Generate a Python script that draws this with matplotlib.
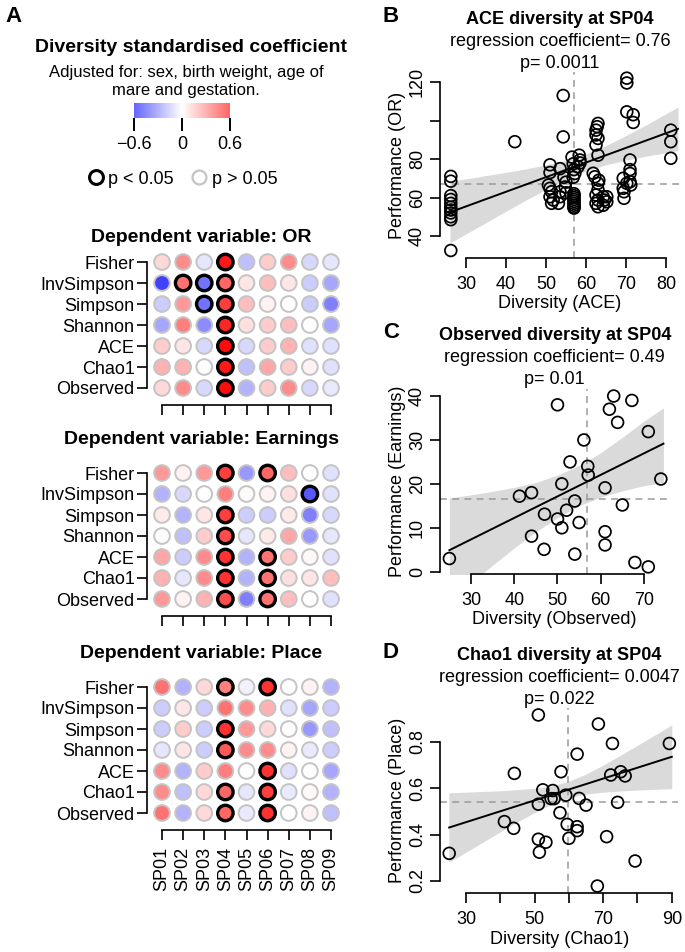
import numpy as np
import matplotlib
matplotlib.use('Agg')
import matplotlib.pyplot as plt
from matplotlib.colors import LinearSegmentedColormap, Normalize
from matplotlib.lines import Line2D

plt.rcParams['font.family'] = ['Liberation Sans', 'DejaVu Sans']
plt.rcParams['axes.linewidth'] = 1.2

# ---------------- data ----------------
indices = ['Fisher', 'InvSimpson', 'Simpson', 'Shannon', 'ACE', 'Chao1', 'Observed']
sites = ['SP01', 'SP02', 'SP03', 'SP04', 'SP05', 'SP06', 'SP07', 'SP08', 'SP09']

# standardised coefficients, rows = indices, cols = sites
coef_or = [[0.15, 0.45, -0.10, 0.90, -0.25, 0.20, 0.45, -0.15, -0.10],
           [-0.75, 0.55, -0.55, 0.60, 0.10, 0.25, 0.10, -0.20, -0.35],
           [-0.20, 0.40, -0.55, 0.75, 0.25, 0.05, 0.00, -0.20, -0.50],
           [-0.35, 0.50, -0.45, 0.85, 0.12, 0.20, 0.25, 0.00, -0.35],
           [0.20, 0.10, -0.15, 0.95, -0.15, 0.20, 0.30, -0.12, -0.12],
           [0.30, 0.30, 0.00, 0.90, -0.25, 0.35, 0.20, 0.05, -0.12],
           [0.15, 0.45, -0.15, 0.95, -0.30, 0.20, 0.45, -0.15, -0.08]]
sig_or = [[0, 0, 0, 1, 0, 0, 0, 0, 0],
          [0, 1, 1, 1, 0, 0, 0, 0, 0],
          [0, 0, 1, 1, 0, 0, 0, 0, 0],
          [0, 0, 0, 1, 0, 0, 0, 0, 0],
          [0, 0, 0, 1, 0, 0, 0, 0, 0],
          [0, 0, 0, 1, 0, 0, 0, 0, 0],
          [0, 0, 0, 1, 0, 0, 0, 0, 0]]

coef_earn = [[0.40, 0.05, 0.40, 0.75, -0.40, 0.60, 0.25, 0.00, -0.12],
             [-0.30, -0.15, 0.00, 0.50, 0.02, 0.05, 0.12, -0.65, -0.12],
             [0.08, -0.30, 0.10, 0.75, -0.20, -0.20, 0.08, -0.50, -0.15],
             [0.00, -0.25, 0.20, 0.70, -0.10, 0.08, 0.35, -0.40, -0.10],
             [0.35, -0.20, 0.45, 0.80, -0.30, 0.55, 0.20, 0.03, -0.12],
             [0.30, -0.10, 0.45, 0.80, -0.30, 0.55, 0.12, 0.10, 0.25],
             [0.40, 0.05, 0.30, 0.70, -0.50, 0.55, 0.25, 0.00, -0.12]]
sig_earn = [[0, 0, 0, 1, 0, 1, 0, 0, 0],
            [0, 0, 0, 0, 0, 0, 0, 1, 0],
            [0, 0, 0, 1, 0, 0, 0, 0, 0],
            [0, 0, 0, 1, 0, 0, 0, 0, 0],
            [0, 0, 0, 1, 0, 1, 0, 0, 0],
            [0, 0, 0, 1, 0, 1, 0, 0, 0],
            [0, 0, 0, 1, 0, 1, 0, 0, 0]]

coef_place = [[0.55, -0.30, 0.15, 0.50, -0.05, 0.80, 0.00, 0.05, -0.30],
              [-0.20, 0.10, -0.20, 0.55, 0.45, 0.30, -0.12, -0.35, -0.20],
              [-0.20, 0.20, -0.20, 0.80, 0.40, 0.15, 0.00, -0.40, -0.25],
              [-0.10, 0.10, -0.20, 0.65, 0.45, 0.45, 0.05, -0.08, -0.20],
              [0.45, -0.30, 0.20, 0.50, 0.00, 0.80, -0.12, 0.00, -0.35],
              [0.45, -0.25, 0.15, 0.60, -0.10, 0.75, -0.08, 0.02, -0.30],
              [0.55, -0.30, 0.15, 0.60, -0.08, 0.80, 0.00, 0.05, -0.25]]
sig_place = [[0, 0, 0, 1, 0, 1, 0, 0, 0],
             [0, 0, 0, 0, 0, 0, 0, 0, 0],
             [0, 0, 0, 1, 0, 0, 0, 0, 0],
             [0, 0, 0, 1, 0, 0, 0, 0, 0],
             [0, 0, 0, 0, 0, 1, 0, 0, 0],
             [0, 0, 0, 1, 0, 1, 0, 0, 0],
             [0, 0, 0, 1, 0, 1, 0, 0, 0]]

# panel B: ACE diversity vs OR
ace_x = [26.2, 26.2, 26.2, 26.2, 26.2, 26.2, 26.2, 26.2, 26.2, 26.2, 26.2,
         42.2,
         51, 51, 53.5, 50.6, 51, 51.4, 51, 51.8, 51.4, 53.5, 53.5, 53.1,
         54.3, 54.3, 54.5, 55, 54.8, 55,
         56.5, 56.8, 57, 57.2, 56.8,
         57, 57, 57, 57, 57, 57, 57, 57, 57,
         58.3, 58.5, 58, 58.5,
         63, 62.8, 62.5, 62.5, 63, 62.5, 63, 61.8, 62.2, 63.2, 63, 63, 62.5, 63,
         64.3, 64.6, 62.5, 64.3, 63, 65.2, 65.2,
         70.2, 70.2, 70.2, 71.8, 71.8, 71, 71, 71, 69.3, 71, 71.2, 69.3, 69.5, 69.5, 70.2,
         81.2, 81.2, 81.2]
ace_or = [71, 68.5, 61, 59, 57, 55, 53.5, 52, 50, 48.5, 32.5,
          89,
          77, 73, 75, 66.5, 64.8, 63, 60.4, 58.7, 57, 63, 60.4, 57,
          113, 91.5, 70.5, 68, 65.5, 62.5,
          81, 77.5, 74.5, 72.5, 70.5,
          62, 61, 60, 59, 58, 57, 56, 55, 54.5,
          82, 79.5, 76, 78,
          98.5, 96.8, 95, 92.5, 90.7, 87.3, 82, 72.6, 70.8, 69, 67.4, 64, 61.3, 58.7,
          60.4, 58.7, 57, 56, 55.2, 60.4, 57.8,
          122, 119.5, 104.5, 103, 99, 79.5, 74.5, 72.5, 70, 68.2, 66.5, 64.8, 63, 59.6, 67.4,
          95, 89, 80.4]
ace_fit = (32.59, 0.76)          # intercept, slope
ace_band_x = [26, 30, 35, 40, 45, 50, 55, 60, 65, 70, 75, 80, 83]
ace_band_lo = [36.4, 41.1, 47.0, 52.9, 58.7, 64.2, 69.4, 73.7, 77.0, 79.4, 81.5, 83.3, 84.4]
ace_band_hi = [68.4, 69.7, 71.4, 73.1, 74.9, 77.0, 79.4, 82.7, 87.0, 92.2, 97.7, 103.5, 107.0]
ace_ref = (57, 67)               # dashed reference lines (x, y)

# panel C: Observed diversity vs Earnings
obs_x = [50, 63, 67.2, 62, 63.9, 56.1, 71, 52.9, 57, 57.1, 51, 73.9, 61, 41.2, 44, 54,
         65, 47, 52.1, 50, 55, 51, 61, 44, 61, 46.9, 54, 25, 67.9, 71]
obs_earn = [38, 40, 39, 37, 34, 30, 31.9, 25, 24, 22, 20, 21.1, 19.1, 17.2, 18, 16.1,
            15.2, 13.1, 14, 12, 11.2, 10, 9.1, 8.1, 6.1, 5.1, 4, 3, 2.1, 1.1]
obs_fit = (-7.35, 0.49)
obs_band_x = [25, 30, 35, 40, 45, 50, 55, 60, 65, 70, 74.5]
obs_band_lo = [-6.5, -2.5, 1.5, 5.4, 9.1, 12.3, 15.0, 17.0, 18.4, 19.6, 20.3]
obs_band_hi = [16.8, 17.5, 18.3, 19.2, 20.3, 22.0, 24.2, 27.1, 30.6, 34.3, 37.3]
obs_ref = (56.75, 16.6)

# panel D: Chao1 diversity vs Place
chao_x = [51.1, 68.6, 72.7, 89.3, 62.4, 44.1, 57.7, 72.2, 75.1, 76.4,
          52.4, 55.3, 54.8, 55.7, 59.1, 51.1, 63, 65, 74.2, 57.4, 41.2, 43.9,
          59.5, 62.4, 62.4, 51.1, 53.3, 60, 71, 51.4, 25.1, 79.3, 68.3]
chao_place = [0.916, 0.877, 0.793, 0.793, 0.747, 0.664, 0.671, 0.657, 0.671, 0.653,
              0.593, 0.59, 0.555, 0.555, 0.57, 0.531, 0.556, 0.527, 0.539, 0.494, 0.456, 0.427,
              0.444, 0.434, 0.417, 0.38, 0.367, 0.384, 0.391, 0.324, 0.319, 0.286, 0.178]
chao_fit = (0.3125, 0.0047)
chao_band_x = [25, 30, 35, 40, 45, 50, 55, 60, 65, 70, 75, 80, 85, 90]
chao_band_lo = [0.280, 0.324, 0.368, 0.412, 0.455, 0.495, 0.532, 0.559, 0.575, 0.583, 0.588, 0.592, 0.595, 0.598]
chao_band_hi = [0.580, 0.583, 0.586, 0.589, 0.594, 0.600, 0.610, 0.630, 0.661, 0.700, 0.742, 0.785, 0.829, 0.873]
chao_ref = (59.8, 0.539)

# ---------------- figure ----------------
W, H = 685, 952
fig = plt.figure(figsize=(W / 100, H / 100), dpi=100)

def px_axes(x0, y0, x1, y1):
    # axes from a pixel box (top-left origin)
    return fig.add_axes([x0 / W, 1 - y1 / H, (x1 - x0) / W, (y1 - y0) / H])

def fig_text(x, y, s, **kw):
    fig.text(x / W, 1 - y / H, s, **kw)

cmap = LinearSegmentedColormap.from_list('bwr_corr', ['#0000ff', '#ffffff', '#ff0000'])
norm = Normalize(-1, 1)

# ----- panel A header -----
fig_text(13, 16, 'A', fontsize=16, fontweight='bold', ha='center', va='center')
fig_text(191, 48, 'Diversity standardised coefficient', fontsize=14, fontweight='bold',
         ha='center', va='center')
fig_text(186, 72, 'Adjusted for: sex, birth weight, age of', fontsize=12, ha='center', va='center')
fig_text(186, 90, 'mare and gestation.', fontsize=12, ha='center', va='center')

cax = px_axes(134, 103, 230, 118)
grad = np.linspace(-0.6, 0.6, 256).reshape(1, -1)
cax.imshow(grad, extent=[-0.6, 0.6, 0, 1], aspect='auto', cmap=cmap, norm=norm)
for s in cax.spines.values():
    s.set_visible(False)
cax.set_yticks([])
cax.set_xticks([-0.6, 0, 0.6])
cax.set_xticklabels(['\u22120.6', '0', '0.6'], fontsize=13)
cax.tick_params(axis='x', length=9, width=1.4, pad=4)

handles = [Line2D([], [], ls='none', marker='o', ms=10, mfc='white', mec='black', mew=2.2),
           Line2D([], [], ls='none', marker='o', ms=10, mfc='white', mec='#c4c4c4', mew=1.6)]
fig.legend(handles, ['p < 0.05', 'p > 0.05'], loc='center', bbox_to_anchor=(183 / W, 1 - 179 / H),
           ncol=2, frameon=False, fontsize=13, handlelength=0.8, handletextpad=0.3,
           columnspacing=1.0, borderpad=0)

# ----- dot grids -----
def dot_grid(top, title, title_y, coef, sig, show_labels):
    row_gap, col0, col_gap = 21, 162, 21.125
    x0, x1 = col0 - 0.71 * col_gap, col0 + 8.5 * col_gap
    y0, y1 = top - 0.6 * row_gap, top + 6 * row_gap + 17
    ax = px_axes(x0, y0, x1, y1)
    ax.set_xlim(-0.71, 8.5)
    ax.set_ylim((y1 - top) / row_gap, -0.6)
    vals = np.array(coef)
    sg = np.array(sig).astype(bool)
    rr, cc = np.meshgrid(np.arange(vals.shape[0]), np.arange(vals.shape[1]), indexing='ij')
    ax.scatter(cc[~sg], rr[~sg], c=vals[~sg], cmap=cmap, norm=norm, s=128,
               edgecolors='#c4c4c4', linewidths=1.4, clip_on=False, zorder=2)
    ax.scatter(cc[sg], rr[sg], c=vals[sg], cmap=cmap, norm=norm, s=124,
               edgecolors='black', linewidths=2.4, clip_on=False, zorder=3)
    ax.spines['top'].set_visible(False)
    ax.spines['right'].set_visible(False)
    ax.spines['left'].set_bounds(0, 6)
    ax.spines['bottom'].set_bounds(0, 8)
    ax.set_yticks(range(len(indices)))
    ax.set_yticklabels(indices, fontsize=13)
    ax.set_xticks(range(len(sites)))
    if show_labels:
        ax.set_xticklabels(sites, fontsize=13, rotation=90)
    else:
        ax.set_xticklabels([])
    ax.tick_params(length=7, width=1.2)
    ax.tick_params(axis='y', pad=2)
    ax.tick_params(axis='x', pad=5)
    fig_text(201, title_y, title, fontsize=14, fontweight='bold', ha='center', va='center')

dot_grid(262, 'Dependent variable: OR', 237, coef_or, sig_or, False)
dot_grid(473, 'Dependent variable: Earnings', 440, coef_earn, sig_earn, False)
dot_grid(687, 'Dependent variable: Place', 653, coef_place, sig_place, True)

# ----- regression panels -----
def reg_panel(box, xlim, ylim, x, y, fit, bx, blo, bhi, ref, xticks, xlabels, yticks, ylabels,
              xlabel, ylabel, letter, title, coef_txt, p_txt):
    ax = px_axes(*box)
    ax.set_xlim(*xlim)
    ax.set_ylim(*ylim)
    ax.fill_between(bx, blo, bhi, color='#dadada', lw=0, zorder=1)
    ax.axvline(ref[0], color='#9a9a9a', lw=1.1, dashes=(4.5, 3.5), zorder=2)
    ax.axhline(ref[1], color='#9a9a9a', lw=1.1, dashes=(4.5, 3.5), zorder=2)
    lx = np.array([min(x), bx[-1]])
    ax.plot(lx, fit[0] + fit[1] * lx, color='black', lw=1.4, zorder=3)
    ax.scatter(x, y, s=72, facecolors='none', edgecolors='black', linewidths=1.25,
               clip_on=False, zorder=4)
    ax.spines['top'].set_visible(False)
    ax.spines['right'].set_visible(False)
    ax.spines['left'].set_bounds(yticks[0], yticks[-1])
    ax.spines['bottom'].set_bounds(xticks[0], xticks[-1])
    ax.set_xticks(xticks)
    ax.set_xticklabels(xlabels, fontsize=13)
    ax.set_yticks(yticks)
    ax.set_yticklabels(ylabels, fontsize=13, rotation=90, va='center')
    ax.tick_params(length=7, width=1.2)
    ax.tick_params(axis='x', pad=6)
    ax.tick_params(axis='y', pad=3)
    ax.annotate(xlabel, xy=(0.5, 0), xycoords='axes fraction', xytext=(0, -46 * 0.72),
                textcoords='offset points', ha='center', va='center', fontsize=13)
    ax.annotate(ylabel, xy=(0, 0.5), xycoords='axes fraction', xytext=(-42.5 * 0.72, 0),
                textcoords='offset points', ha='center', va='center', fontsize=13, rotation=90)
    for off, txt, wt in [(53, title, 'bold'), (31, coef_txt, 'normal'), (9, p_txt, 'normal')]:
        ax.annotate(txt, xy=(0.5, 1), xycoords='axes fraction', xytext=(0, off * 0.72),
                    textcoords='offset points', ha='center', va='center', fontsize=13,
                    fontweight=wt)
    fig_text(391, box[1] - 56, letter, fontsize=16, fontweight='bold', ha='center', va='center')

reg_panel((440, 72, 680, 258), (23.5, 83.5), (28.6, 125.2), ace_x, ace_or, ace_fit,
          ace_band_x, ace_band_lo, ace_band_hi, ace_ref,
          [30, 40, 50, 60, 70, 80], ['30', '40', '50', '60', '70', '80'],
          [40, 60, 80, 100, 120], ['40', '60', '80', '', '120'],
          'Diversity (ACE)', 'Performance (OR)', 'B', 'ACE diversity at SP04',
          'regression coefficient= 0.76', 'p= 0.0011')

reg_panel((440, 389, 669.5, 574), (22.83, 75.9), (-0.52, 41.6), obs_x, obs_earn, obs_fit,
          obs_band_x, obs_band_lo, obs_band_hi, obs_ref,
          [30, 40, 50, 60, 70], ['30', '40', '50', '60', '70'],
          [0, 10, 20, 30, 40], ['0', '10', '20', '30', '40'],
          'Diversity (Observed)', 'Performance (Earnings)', 'C', 'Observed diversity at SP04',
          'regression coefficient= 0.49', 'p= 0.01')

reg_panel((440, 708, 678.3, 893), (22.42, 91.9), (0.148, 0.946), chao_x, chao_place, chao_fit,
          chao_band_x, chao_band_lo, chao_band_hi, chao_ref,
          [30, 40, 50, 60, 70, 80, 90], ['30', '', '50', '', '70', '', '90'],
          [0.2, 0.4, 0.6, 0.8], ['0.2', '0.4', '0.6', '0.8'],
          'Diversity (Chao1)', 'Performance (Place)', 'D', 'Chao1 diversity at SP04',
          'regression coefficient= 0.0047', 'p= 0.022')

fig.savefig('out.png', dpi=100)
